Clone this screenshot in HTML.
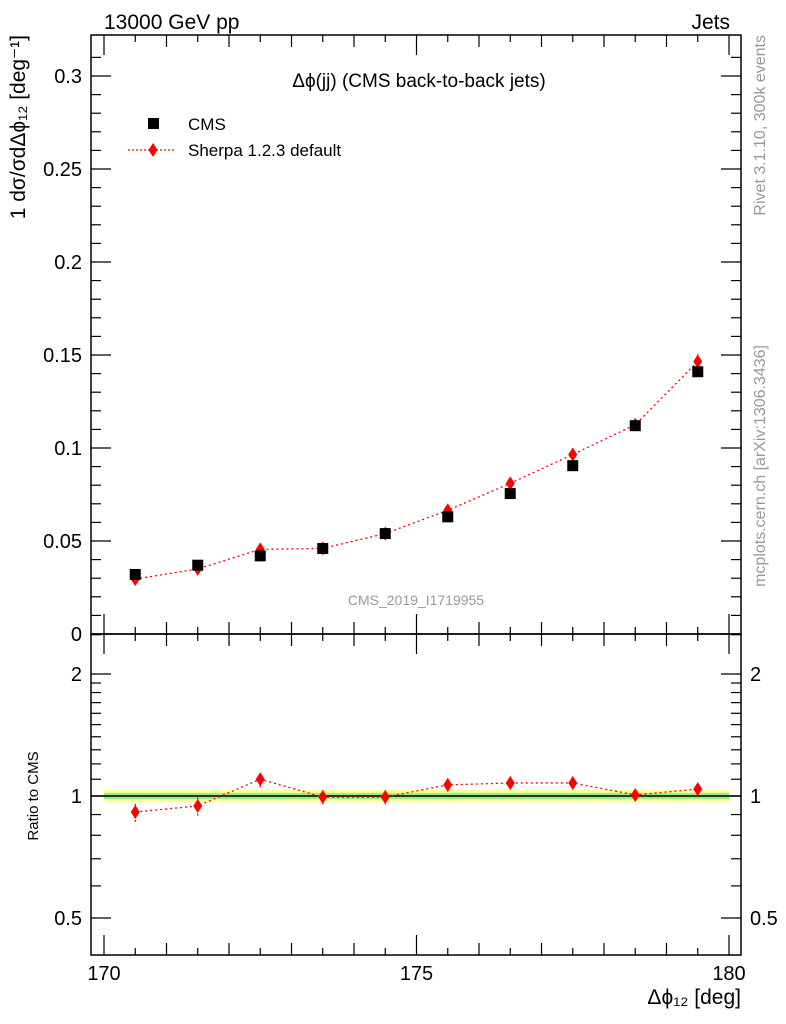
<!DOCTYPE html>
<html><head><meta charset="utf-8"><style>
body{margin:0;background:#fff;}
svg{display:block;font-family:"Liberation Sans",sans-serif;}
</style></head><body>
<svg id="c" width="786" height="1024" xmlns="http://www.w3.org/2000/svg"></svg>
<script>
const xCenters=[170.5,171.5,172.5,173.5,174.5,175.5,176.5,177.5,178.5,179.5];
const cmsValues=[0.032,0.037,0.042,0.046,0.054,0.063,0.0755,0.0905,0.112,0.141];
const sherpaValues=[0.0295,0.035,0.0455,0.046,0.054,0.0665,0.081,0.0965,0.1125,0.1465];
const sherpaErr=[0.002,0.002,0.002,0.002,0.002,0.002,0.0025,0.003,0.003,0.004];
const ratioValues=[0.913,0.945,1.10,0.994,0.994,1.065,1.077,1.077,1.006,1.04];
const ratioErr=[0.05,0.05,0.05,0.04,0.04,0.04,0.04,0.04,0.035,0.035];
const xTicks=[170,175,180];
const yTicks=[0,0.05,0.1,0.15,0.2,0.25,0.3];
const yTickLabels=["0","0.05","0.1","0.15","0.2","0.25","0.3"];
const rTicks=[0.5,1,2];
const rTickLabels=["0.5","1","2"];

const NS="http://www.w3.org/2000/svg";
const svg=document.getElementById('c');
function el(t,a,txt){const e=document.createElementNS(NS,t);for(const k in a)e.setAttribute(k,a[k]);if(txt!==undefined)e.textContent=txt;svg.appendChild(e);return e;}
const L=91,R=741,T=35,M=634,B=955;
const X=v=>104+(v-170)*62.5;
const Y=v=>634-v*1860;
const RY=v=>796-Math.log2(v)*122;

let f=el('rect',{x:L,y:T,width:R-L,height:M-T,fill:'none',stroke:'#000','stroke-width':1.5});

f=el('rect',{x:L,y:M,width:R-L,height:B-M,fill:'none',stroke:'#000','stroke-width':1.5});


for(let v=170;v<=180;v+=0.5){const maj=v%5===0;const len=maj?20:(v%1===0?12:7);
 [[M,-1],[T,1],[B,-1],[M,1]].forEach(([y0,d])=>{el('line',{x1:X(v),x2:X(v),y1:y0,y2:y0+d*len,stroke:'#000','stroke-width':1.2});});}
xTicks.forEach(v=>{const t=el('text',{x:X(v),y:980,'font-size':20,'text-anchor':'middle'},String(v));
 });
for(let v=0;v<=0.32;v+=0.01){const maj=Math.round(v*100)%5===0;const len=maj?20:10;const y=Y(v);if(y<T)continue;
 el('line',{x1:L,x2:L+len,y1:y,y2:y,stroke:'#000','stroke-width':1.2});el('line',{x1:R,x2:R-len,y1:y,y2:y,stroke:'#000','stroke-width':1.2});}
yTicks.forEach((v,i)=>{const t=el('text',{x:82,y:Y(v)+7,'font-size':20,'text-anchor':'end'},yTickLabels[i]);
 });
const rminor=[0.5,0.6,0.7,0.8,0.9,1,1.1,1.2,1.3,1.4,1.5,1.6,1.7,1.8,1.9,2,2.5];
rminor.forEach(v=>{const maj=rTicks.includes(v);const len=maj?20:10;const y=RY(v);
 el('line',{x1:L,x2:L+len,y1:y,y2:y,stroke:'#000','stroke-width':1.2});el('line',{x1:R,x2:R-len,y1:y,y2:y,stroke:'#000','stroke-width':1.2});});
rTicks.forEach((v,i)=>{let t=el('text',{x:82,y:RY(v)+7,'font-size':20,'text-anchor':'end'},rTickLabels[i]);
 
 t=el('text',{x:750,y:RY(v)+7,'font-size':20},rTickLabels[i]);
 });

let b=el('rect',{x:104,y:RY(1.035),width:625,height:RY(0.965)-RY(1.035),fill:'#ffff99'});

b=el('rect',{x:104,y:RY(1.018),width:625,height:RY(0.982)-RY(1.018),fill:'#99ee88'});

el('line',{x1:L,x2:R,y1:RY(1),y2:RY(1),stroke:'#000','stroke-width':1.5});

function diamond(x,y,name){const p=el('polygon',{points:`${x},${y-7} ${x+4.5},${y} ${x},${y+7} ${x-4.5},${y}`,fill:'#f00'});
 }
let pts=xCenters.map((x,i)=>X(x)+','+Y(sherpaValues[i])).join(' ');
let pl=el('polyline',{points:pts,fill:'none',stroke:'#f00','stroke-width':1.3,'stroke-dasharray':'2,3'});

xCenters.forEach((x,i)=>{el('line',{x1:X(x),x2:X(x),y1:Y(sherpaValues[i]-sherpaErr[i]),y2:Y(sherpaValues[i]+sherpaErr[i]),stroke:'#f00','stroke-width':1.3});
 diamond(X(x),Y(sherpaValues[i]),'sherpa-point');});
xCenters.forEach((x,i)=>{const r=el('rect',{x:X(x)-5.5,y:Y(cmsValues[i])-5.5,width:11,height:11,fill:'#000'});
 });
pts=xCenters.map((x,i)=>X(x)+','+RY(ratioValues[i])).join(' ');
pl=el('polyline',{points:pts,fill:'none',stroke:'#f00','stroke-width':1.3,'stroke-dasharray':'2,3'});

xCenters.forEach((x,i)=>{el('line',{x1:X(x),x2:X(x),y1:RY(ratioValues[i]-ratioErr[i]),y2:RY(ratioValues[i]+ratioErr[i]),stroke:'#f00','stroke-width':1.3,'stroke-dasharray':'2,2'});
 diamond(X(x),RY(ratioValues[i]),'ratio-point');});

function txt(a,s,name){const t=el('text',a,s);return t;}
txt({x:104,y:29,'font-size':21},'13000 GeV pp','energy-label');
txt({x:730,y:29,'font-size':21,'text-anchor':'end'},'Jets','process-label');
txt({x:419,y:87,'font-size':19,'text-anchor':'middle'},'Δϕ(jj) (CMS back-to-back jets)','plot-title');
txt({x:416,y:605,'font-size':14,'text-anchor':'middle',fill:'#999'},'CMS_2019_I1719955','analysis-id');
let lr=el('rect',{x:148,y:118,width:11,height:11,fill:'#000'});
txt({x:188,y:130,'font-size':17},'CMS','legend-cms');
el('line',{x1:128,x2:176,y1:150,y2:150,stroke:'#f00','stroke-width':1.3,'stroke-dasharray':'2,2'});
diamond(153,150,'legend-sherpa-marker');
txt({x:188,y:156,'font-size':17},'Sherpa 1.2.3 default','legend-sherpa');
txt({x:741,y:1004,'font-size':21,'text-anchor':'end'},'Δϕ₁₂ [deg]','x-axis-title');
txt({x:0,y:0,'font-size':15,'text-anchor':'middle',transform:'translate(38,796) rotate(-90)'},'Ratio to CMS','ratio-y-axis-title');
txt({x:0,y:0,'font-size':21,'text-anchor':'end',transform:'translate(25,35) rotate(-90)'},'1 dσ/σdΔϕ₁₂ [deg⁻¹]','y-axis-title');
txt({x:0,y:0,'font-size':16,'text-anchor':'end',fill:'#999',transform:'translate(765,35) rotate(-90)'},'Rivet 3.1.10,  300k events','rivet-label');
txt({x:0,y:0,'font-size':16,'text-anchor':'end',fill:'#999',transform:'translate(765,345) rotate(-90)'},'mcplots.cern.ch [arXiv:1306.3436]','mcplots-label');
</script>
</body></html>
